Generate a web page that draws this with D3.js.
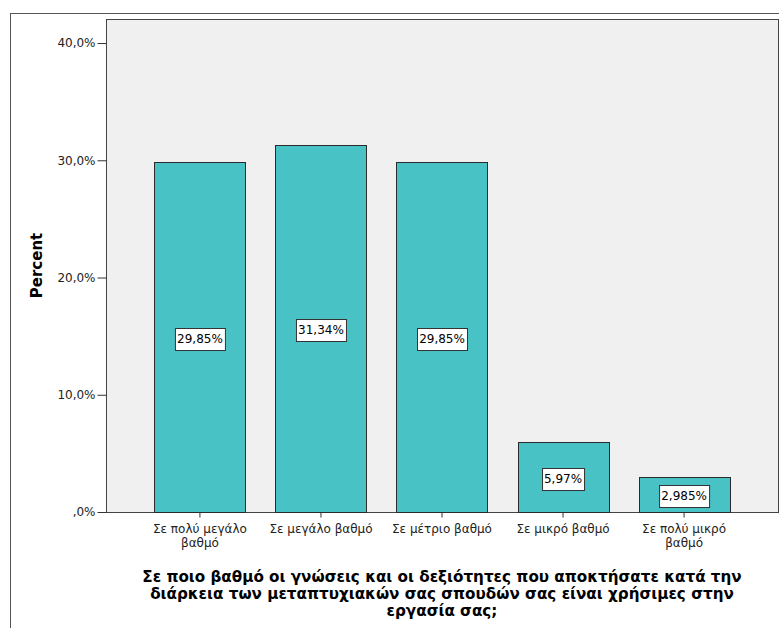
<!DOCTYPE html>
<html><head><meta charset="utf-8">
<script src="https://cdn.jsdelivr.net/npm/d3@7"></script>
<style>
html,body{margin:0;padding:0;background:#fff;}
svg{display:block;font-family:"DejaVu Sans",Verdana,sans-serif;}
</style></head>
<body>
<svg id="c" width="779" height="628"></svg>
<script>
const categories = ["Σε πολύ μεγάλο\nβαθμό","Σε μεγάλο βαθμό","Σε μέτριο βαθμό","Σε μικρό βαθμό","Σε πολύ μικρό\nβαθμό"];
const percents = [29.85, 31.34, 29.85, 5.97, 2.985];
const valueLabels = ["29,85%","31,34%","29,85%","5,97%","2,985%"];
const yTicks = [0, 10, 20, 30, 40];
const yTickLabels = [",0%","10,0%","20,0%","30,0%","40,0%"];
const yTitle = "Percent";
const xTitleLines = ["Σε ποιο βαθμό οι γνώσεις και οι δεξιότητες που αποκτήσατε κατά την","διάρκεια των μεταπτυχιακών σας σπουδών σας είναι χρήσιμες στην","εργασία σας;"];

const svg = d3.select("#c");
const L = 106, R = 778, T = 19, B = 512;

svg.append("rect").attr("x",10.5).attr("y",13.5).attr("width",800).attr("height",700)
  .attr("fill","none").attr("stroke","#555").attr("stroke-width",1);

const x = d3.scaleBand().domain(d3.range(categories.length)).range([L,R]).paddingInner(0.248).paddingOuter(0.4);
const y = d3.scaleLinear().domain([0,42.05]).range([B,T]);

svg.append("rect").attr("x",L+0.5).attr("y",T+0.5).attr("width",R-L).attr("height",B-T)
  .attr("fill","#f0f0f0").attr("stroke","#444").attr("stroke-width",1);

svg.selectAll("rect.bar").data(percents).join("rect").attr("class","bar")
  .attr("x",(d,i)=>Math.round(x(i))+0.5).attr("y",d=>Math.round(y(d))+0.5)
  .attr("width",Math.round(x.bandwidth())).attr("height",d=>Math.round(B-y(d)))
  .attr("fill","#48c2c5").attr("stroke","#2b2b2b").attr("stroke-width",1);

const lg = svg.selectAll("g.vl").data(percents).join("g").attr("class","vl")
  .attr("transform",(d,i)=>`translate(${x(i)+x.bandwidth()/2},${Math.round((y(d)+B)/2+1.5)})`);
lg.append("text").attr("text-anchor","middle").attr("dy","0.36em")
  .attr("font-size",12).attr("fill","#000").text((d,i)=>valueLabels[i]);
lg.each(function(){
  const g=d3.select(this); const bb=g.select("text").node().getBBox();
  g.insert("rect","text").attr("x",Math.round(bb.x-2)+0.5).attr("y",-11+0.5)
   .attr("width",Math.round(bb.width+4)).attr("height",22).attr("fill","#fff").attr("stroke","#333");
});

const yAxis = d3.axisLeft(y).tickValues(yTicks).tickSize(9).tickPadding(2)
  .tickFormat((d,i)=>yTickLabels[i]);
const ya = svg.append("g").attr("transform",`translate(${L+0.5},0)`).call(yAxis);
ya.select(".domain").remove();
ya.selectAll("line").attr("stroke","#333");
ya.selectAll("text").attr("font-size",12).attr("fill","#222").attr("font-family","DejaVu Sans, Verdana, sans-serif");

const xAxis = d3.axisBottom(x).tickSize(5).tickFormat("");
const xa = svg.append("g").attr("transform",`translate(0,${B+0.5})`).call(xAxis);
xa.select(".domain").remove();
xa.selectAll("line").attr("stroke","#333");
categories.forEach((c,i)=>{
  const t = svg.append("text").attr("x",x(i)+x.bandwidth()/2).attr("y",533)
    .attr("text-anchor","middle").attr("font-size",12).attr("fill","#222");
  c.split("\n").forEach((ln,j)=>t.append("tspan").attr("x",x(i)+x.bandwidth()/2).attr("dy",j?13.5:0).text(ln));
});

svg.append("text").attr("transform",`translate(42,${(T+B)/2}) rotate(-90)`)
  .attr("text-anchor","middle").attr("font-size",15).attr("font-weight","bold").attr("fill","#000").text(yTitle);
xTitleLines.forEach((ln,j)=>{
  svg.append("text").attr("x",442).attr("y",582+j*17).attr("text-anchor","middle")
    .attr("font-size",15.2).attr("font-weight","bold").attr("fill","#000").text(ln);
});
</script>
</body></html>
